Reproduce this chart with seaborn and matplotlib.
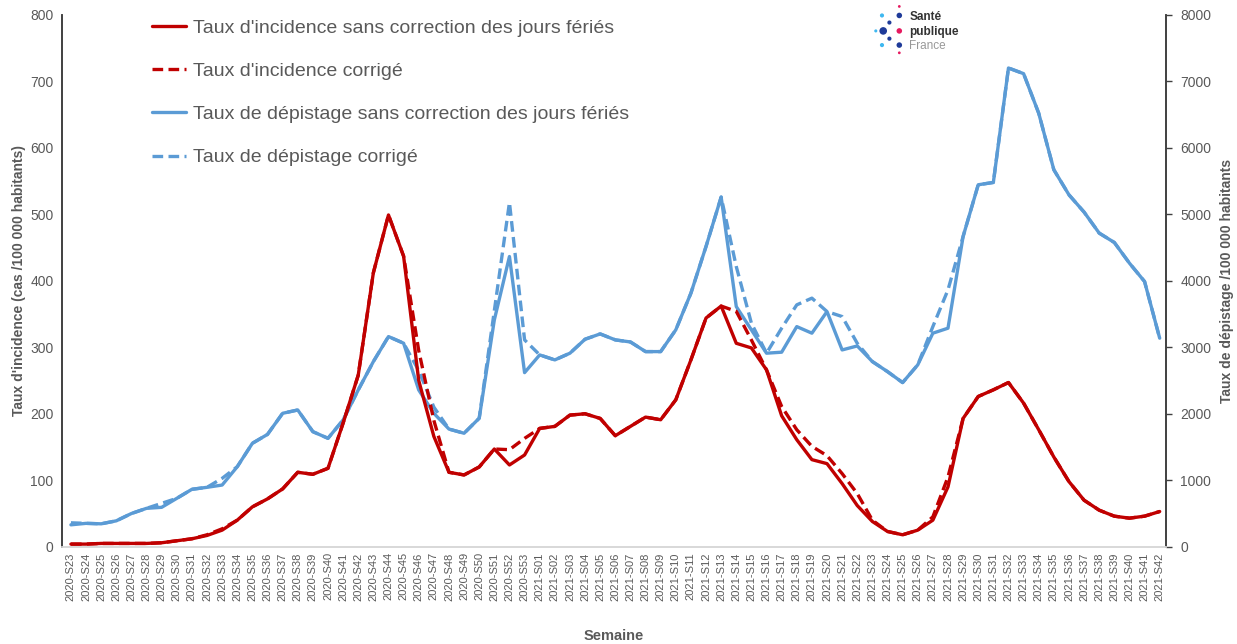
import matplotlib
matplotlib.use("Agg")
import matplotlib.pyplot as plt
from matplotlib.lines import Line2D
import numpy as np
import pandas as pd
import seaborn as sns

# ──────────────────────────────────────────────────────────────────────────────
# Données
# ──────────────────────────────────────────────────────────────────────────────

weeks_2020 = [f"2020-S{w}" for w in range(23, 54)]
weeks_2021 = [f"2021-S{w:02d}" for w in range(1, 43)]
semaines = weeks_2020 + weeks_2021

# Taux d'incidence sans correction des jours fériés (cas /100 000 hab.)
incidence = [
    4, 4, 5, 5, 5, 5, 6, 9, 12, 17, 25, 40, 60, 72, 87, 112, 109, 118, 186, 258,
    412, 499, 437, 250, 166, 112, 108, 120, 147, 123, 138, 178, 181, 198, 200, 193,
    167, 181, 195, 191, 221, 281, 344, 362, 306, 299, 266, 197, 161, 131, 125, 95,
    62, 38, 23, 18, 25, 40, 90, 193, 226, 236, 247, 216, 176, 135, 98, 70, 55, 46,
    43, 46, 53,
]

# Taux d'incidence corrigé
incidence_corr = [
    4, 4, 5, 5, 5, 5, 6, 9, 12, 18, 27, 40, 60, 72, 87, 112, 109, 118, 186, 258,
    412, 499, 437, 295, 190, 112, 108, 120, 147, 146, 163, 178, 181, 198, 200, 193,
    167, 181, 195, 191, 221, 281, 344, 362, 354, 311, 266, 211, 176, 151, 137, 110,
    80, 40, 23, 18, 25, 45, 105, 193, 226, 236, 247, 216, 176, 135, 98, 70, 55, 46,
    43, 46, 53,
]

# Taux de dépistage sans correction des jours fériés (/100 000 hab.)
depistage = [
    330, 352, 345, 390, 500, 578, 593, 728, 864, 894, 928, 1204, 1556, 1690, 2007,
    2057, 1731, 1631, 1907, 2358, 2785, 3161, 3061, 2358, 2007, 1770, 1707, 1933,
    3412, 4365, 2619, 2885, 2810, 2911, 3121, 3201, 3111, 3080, 2935, 2935, 3262,
    3814, 4516, 5259, 3612, 3262, 2911, 2926, 3311, 3212, 3537, 2960, 3020, 2785,
    2634, 2469, 2735, 3212, 3287, 4666, 5444, 5479, 7200, 7115, 6520, 5670, 5293,
    5033, 4717, 4576, 4265, 3989, 3137,
]

# Taux de dépistage corrigé
depistage_corr = [
    360, 352, 345, 390, 500, 578, 653, 728, 864, 894, 1029, 1204, 1556, 1690, 2007,
    2057, 1731, 1631, 1907, 2358, 2785, 3161, 3061, 2650, 2100, 1770, 1707, 1933,
    3550, 5178, 3111, 2885, 2810, 2911, 3121, 3201, 3111, 3080, 2935, 2935, 3262,
    3814, 4516, 5259, 4214, 3362, 2911, 3287, 3638, 3739, 3537, 3462, 3060, 2785,
    2634, 2469, 2735, 3311, 3864, 4666, 5444, 5479, 7200, 7115, 6520, 5670, 5293,
    5033, 4717, 4576, 4265, 3989, 3137,
]

ROUGE = "#C00000"
BLEU = "#5B9BD5"
GRIS = "#595959"

sns.set_theme(style="white")
plt.rcParams["font.family"] = ["Liberation Sans", "DejaVu Sans"]

df = pd.DataFrame({
    "idx": np.arange(len(semaines)),
    "incidence": incidence,
    "incidence_corr": incidence_corr,
    "depistage": depistage,
    "depistage_corr": depistage_corr,
})

fig = plt.figure(figsize=(12.37, 6.44), dpi=100)
ax = fig.add_axes([0.050, 0.151, 0.893, 0.826])
ax2 = ax.twinx()

lw = 2.4
dash = (3.2, 1.6)

# dépistage (axe droit)
sns.lineplot(data=df, x="idx", y="depistage_corr", ax=ax2, color=BLEU, linewidth=lw)
ax2.lines[-1].set_dashes(dash)
sns.lineplot(data=df, x="idx", y="depistage", ax=ax2, color=BLEU, linewidth=lw)

# incidence (axe gauche)
sns.lineplot(data=df, x="idx", y="incidence_corr", ax=ax, color=ROUGE, linewidth=lw)
ax.lines[-1].set_dashes(dash)
sns.lineplot(data=df, x="idx", y="incidence", ax=ax, color=ROUGE, linewidth=lw)

ax.set_zorder(ax2.get_zorder() + 1)
ax.patch.set_visible(False)

ax.set_xlim(-0.6, len(semaines) - 0.55)
ax.set_ylim(0, 800)
ax2.set_ylim(0, 8000)
ax.set_yticks(range(0, 801, 100))
ax2.set_yticks(range(0, 8001, 1000))
ax.set_xticks(df["idx"])
ax.set_xticklabels(semaines, rotation=90, fontsize=8, color=GRIS)

ax.tick_params(axis="y", labelsize=10, colors=GRIS, length=0, pad=6)
ax2.tick_params(axis="y", labelsize=10, labelcolor=GRIS, color="#404040",
                length=4, width=1, direction="out", pad=6)
ax.tick_params(axis="x", length=0, pad=4)

for a in (ax, ax2):
    a.spines["top"].set_visible(False)
    a.spines["bottom"].set_color("#D9D9D9")
    a.spines["left"].set_color("#404040")
    a.spines["right"].set_color("#404040")
    a.spines["left"].set_linewidth(1.2)
    a.spines["right"].set_linewidth(1.2)

ax.set_xlabel("Semaine", fontsize=10.5, fontweight="bold", color=GRIS, labelpad=20)
ax.set_ylabel("Taux d'incidence (cas /100 000 habitants)", fontsize=10,
              fontweight="bold", color=GRIS, labelpad=3)
ax2.set_ylabel("Taux de dépistage /100 000 habitants", fontsize=10,
               fontweight="bold", color=GRIS, labelpad=6)

# légende
handles = [
    Line2D([0], [0], color=ROUGE, lw=lw),
    Line2D([0], [0], color=ROUGE, lw=lw, dashes=dash),
    Line2D([0], [0], color=BLEU, lw=lw),
    Line2D([0], [0], color=BLEU, lw=lw, dashes=dash),
]
labels = [
    "Taux d'incidence sans correction des jours fériés",
    "Taux d'incidence corrigé",
    "Taux de dépistage sans correction des jours fériés",
    "Taux de dépistage corrigé",
]
leg = ax.legend(handles, labels, loc="upper left", bbox_to_anchor=(0.066, 1.025),
                frameon=False, fontsize=14, labelspacing=1.32, handlelength=1.75,
                handletextpad=0.35)
for t in leg.get_texts():
    t.set_color(GRIS)

# logo Santé publique France
fig.text(0.735, 0.973, "Santé", fontsize=8.5, fontweight="bold", color="#333333", va="center")
fig.text(0.735, 0.951, "publique", fontsize=8.5, fontweight="bold", color="#333333", va="center")
fig.text(0.735, 0.928, "France", fontsize=8.5, color="#999999", va="center")
dots_x = [0.713, 0.719, 0.727, 0.708, 0.714, 0.727, 0.719, 0.713, 0.727, 0.727, 0.727]
dots_y = [0.976, 0.965, 0.976, 0.952, 0.952, 0.952, 0.940, 0.930, 0.930, 0.990, 0.918]
dots_c = ["#3FB8F0", "#1F3B99", "#1F3B99", "#3FB8F0", "#1F3B99", "#E6195F",
          "#1F3B99", "#3FB8F0", "#1F3B99", "#E6195F", "#E6195F"]
dots_s = [9, 9, 16, 5, 30, 16, 9, 9, 16, 4, 4]
logo = fig.add_axes([0, 0, 1, 1], zorder=10)
logo.set_axis_off()
logo.set_xlim(0, 1)
logo.set_ylim(0, 1)
logo.patch.set_visible(False)
logo.scatter(dots_x, dots_y, s=dots_s, c=dots_c, linewidths=0)

fig.savefig("out.png", dpi=100)
